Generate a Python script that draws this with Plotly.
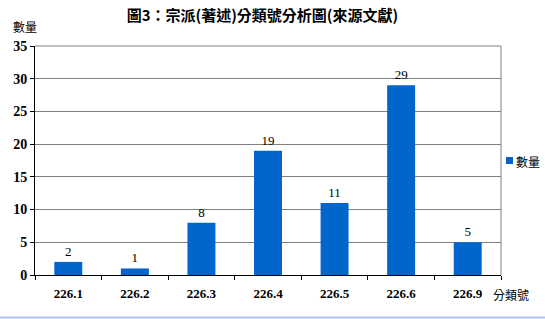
import plotly.graph_objects as go

categories = ["226.1", "226.2", "226.3", "226.4", "226.5", "226.6", "226.9"]
values = [2, 1, 8, 19, 11, 29, 5]
series_name = "數量"
title_text = "圖3：宗派(著述)分類號分析圖(來源文獻)"
y_ticks = [0, 5, 10, 15, 20, 25, 30, 35]

W, H = 545, 319
L, R, T, B = 35, 44, 46, 44
pw, ph = W - L - R, H - T - B

def px_x(x):
    return (x - L) / pw

def px_y(y):
    return (H - B - y) / ph

serif = "Liberation Serif, Times New Roman, serif"
cjk = "Noto Sans CJK TC"
bar_color = "#0066CC"

fig = go.Figure()
fig.add_trace(go.Bar(
    x=categories, y=values, name=series_name,
    marker=dict(color=bar_color, line=dict(width=0)),
    width=0.42,
    text=[str(v) for v in values], textposition="outside",
    textfont=dict(family=serif, size=13, color="black"),
    cliponaxis=False,
))

fig.update_layout(
    width=W, height=H,
    margin=dict(l=L, r=R, t=T, b=B, autoexpand=False),
    paper_bgcolor="white", plot_bgcolor="white",
    title=dict(text="<b>" + title_text + "</b>", x=266 / W, xanchor="center", xref="paper",
               y=1 - 16 / H, yanchor="middle",
               font=dict(family=cjk, size=15, color="black")),
    showlegend=False,
    xaxis=dict(
        type="category", showline=True, linecolor="black", linewidth=1,
        ticks="outside", tickcolor="black", ticklen=4, tickson="boundaries",
        showgrid=False, ticklabelstandoff=6,
        tickfont=dict(family=serif, size=13, color="black", weight="bold"),
    ),
    yaxis=dict(
        range=[0, 35], tickvals=y_ticks, showline=True, linecolor="black", linewidth=1,
        ticks="outside", tickcolor="black", ticklen=4,
        showgrid=True, gridcolor="#808080", gridwidth=1, zeroline=False,
        tickfont=dict(family=serif, size=14, color="black", weight="bold"),
    ),
    annotations=[
        dict(text="數量", xref="paper", yref="paper", x=px_x(25), y=px_y(27), xanchor="center", yanchor="middle",
             showarrow=False, font=dict(family=cjk, size=12, color="black")),
        dict(text="分類號", xref="paper", yref="paper", x=px_x(491), y=px_y(294), xanchor="left", yanchor="middle",
             showarrow=False, font=dict(family=cjk, size=12, color="black")),
        dict(text=series_name, xref="paper", yref="paper", x=px_x(514), y=px_y(161), xanchor="left", yanchor="middle",
             showarrow=False, font=dict(family=cjk, size=12, color="black")),
    ],
    shapes=[
        dict(type="line", xref="paper", yref="paper", x0=0, x1=1, y0=1, y1=1, line=dict(color="#808080", width=1)),
        dict(type="line", xref="paper", yref="paper", x0=1, x1=1, y0=0, y1=1, line=dict(color="#808080", width=1)),
        dict(type="rect", xref="paper", yref="paper", x0=px_x(506), x1=px_x(513), y0=px_y(164), y1=px_y(157),
             fillcolor=bar_color, line=dict(width=0)),
        dict(type="line", xref="paper", yref="paper", x0=px_x(0), x1=px_x(W), y0=px_y(317.5), y1=px_y(317.5),
             line=dict(color="#A9C4EE", width=2)),
    ],
)

fig.write_html("out.html")
